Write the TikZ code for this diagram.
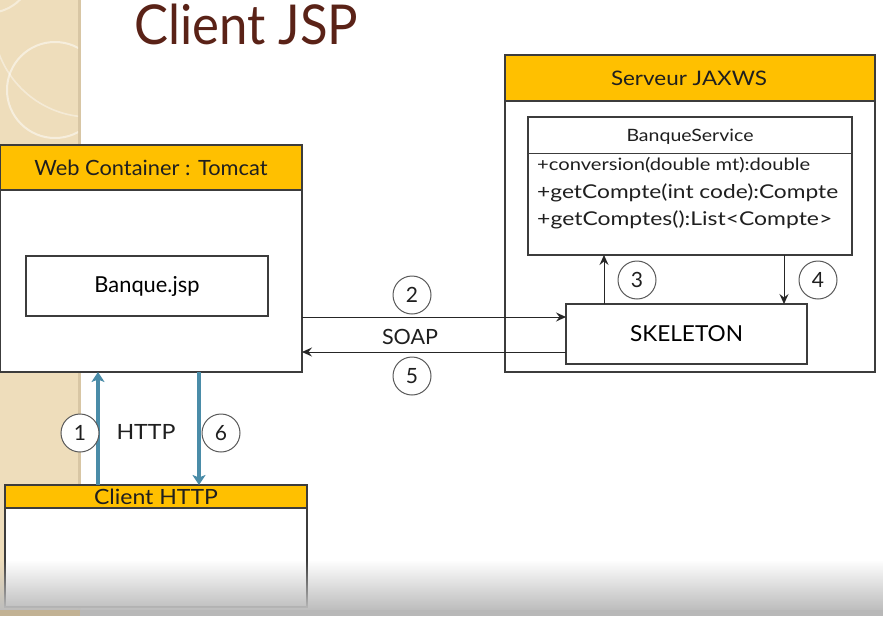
\documentclass[tikz,border=0pt]{standalone}
\usepackage{fontspec}
\setmainfont{Lato}
\usetikzlibrary{arrows.meta,fadings}
\definecolor{strip}{HTML}{EEDDBB}
\definecolor{stripedge}{HTML}{D8C6A4}
\definecolor{hdr}{HTML}{FFC000}
\definecolor{frame}{HTML}{3C3C3C}
\definecolor{titlebrown}{HTML}{5A2217}
\definecolor{flow}{HTML}{4A8CA8}
\tikzfading[name=fadeup, top color=transparent!100, bottom color=transparent!0]
\newcommand\fs[1]{\fontsize{#1}{#1}\selectfont}
% set text at a given size, stretched to a given width
\newcommand\wtext[3]{{\fs{#1}\resizebox{#2}{\height}{#3}}}
\tikzset{
  box/.style={draw=frame, line width=1.2pt, fill=white},
  hdrbar/.style={draw=frame, line width=1.2pt, fill=hdr},
  lbl/.style={inner sep=0pt, text=black!88},
  stepnum/.style={circle, draw=black!65, line width=1pt, fill=white,
    minimum size=38pt, inner sep=0pt, text=black!88},
  msg/.style={draw=black!85, line width=1pt, -{Stealth[length=10pt,width=9pt,inset=3.5pt]}},
  httpflow/.style={draw=flow, line width=3.2pt, -{Stealth[length=10pt,width=13pt,inset=2.5pt]}},
}
\begin{document}
\begin{tikzpicture}[x=1pt, y=-1pt]
\useasboundingbox (0,0) rectangle (883,616);
\fill[white] (0,0) rectangle (883,616);

% decorative side strip
\fill[strip] (0,0) rectangle (80,616);
\fill[stripedge] (78,0) rectangle (81,610);
\begin{scope}
  \clip (0,0) rectangle (78,616);
  \draw[white, opacity=0.5, line width=2pt] (55,90) circle (48);
  \draw[white, opacity=0.4, line width=1.6pt] (90,20) circle (97);
  \draw[white, opacity=0.45, line width=2pt] (-12,-32) circle (45);
\end{scope}

% title
\node[anchor=base west, inner sep=0pt, text=titlebrown] (title) at (134,44) {\wtext{55}{224pt}{Client JSP}};

% web container
\draw[box] (0,145) rectangle (302,372);
\draw[hdrbar] (0,145) rectangle (302,190);
\node[lbl] (webhdr) at (151,168) {\wtext{21}{233pt}{Web Container : Tomcat}};
\node[box, minimum width=242pt, minimum height=60pt] (jsp) at (147,286) {\wtext{22}{105pt}{Banque.jsp}};
\coordinate (webE2) at (302,317);
\coordinate (webE5) at (302,352);
\coordinate (webS1) at (98,372);
\coordinate (webS6) at (199,372);

% JAX-WS server
\draw[box] (505,55) rectangle (875,372);
\draw[hdrbar] (505,55) rectangle (875,101);
\node[lbl] (srvhdr) at (689,78) {\wtext{20}{156pt}{Serveur JAXWS}};

% service class
\draw[box] (528,117) rectangle (852,255);
\draw[frame, line width=1pt] (528,153) -- (852,153);
\node[lbl] (svcname) at (690,137) {\wtext{17}{127pt}{BanqueService}};
\node[lbl, anchor=base west] (op1) at (537,170) {\wtext{17}{273pt}{+conversion(double mt):double}};
\node[lbl, anchor=base west] (op2) at (537,198) {\wtext{19}{301pt}{+getCompte(int code):Compte}};
\node[lbl, anchor=base west] (op3) at (537,225) {\wtext{19}{295pt}{+getComptes():List<Compte>}};
\coordinate (svcS3) at (604,255);
\coordinate (svcS4) at (784,255);

% skeleton
\node[box, minimum width=241pt, minimum height=60pt] (skel) at (686.5,334) {\wtext{22}{113pt}{SKELETON}};
\coordinate (skN3) at (604,304);
\coordinate (skN4) at (784,304);
\coordinate (skW2) at (566,317);
\coordinate (skW5) at (566,352);

% client
\draw[box] (5,485) rectangle (307,607);
\draw[hdrbar] (5,485) rectangle (307,508);
\node[lbl] (clienthdr) at (156,497) {\wtext{21}{124pt}{Client HTTP}};
\coordinate (cliN1) at (98,485);
\coordinate (cliN6) at (199,485);

% messages
\draw[msg] (webE2) -- (skW2);
\draw[msg] (skW5) -- (webE5);
\draw[msg] (skN3) -- (svcS3);
\draw[msg] (svcS4) -- (skN4);
\draw[httpflow] (cliN1) -- (webS1);
\draw[httpflow] (webS6) -- (cliN6);

\node[lbl] (soap) at (410,337) {\wtext{21}{56pt}{SOAP}};
\node[lbl] (http) at (146,432) {\wtext{21}{59pt}{HTTP}};

\node[stepnum] (n1) at (80,433) {\fs{21}1};
\node[stepnum] (n2) at (412,295) {\fs{21}2};
\node[stepnum] (n3) at (637,280) {\fs{21}3};
\node[stepnum] (n4) at (818,280) {\fs{21}4};
\node[stepnum] (n5) at (412,376) {\fs{21}5};
\node[stepnum] (n6) at (221,433) {\fs{21}6};

% bottom shadow band
\fill[black!26, path fading=fadeup] (0,560) rectangle (883,610);
\fill[black!28] (80,610) rectangle (883,616);
\fill[stripedge!90!black] (0,610) rectangle (80,616);
\end{tikzpicture}
\end{document}
